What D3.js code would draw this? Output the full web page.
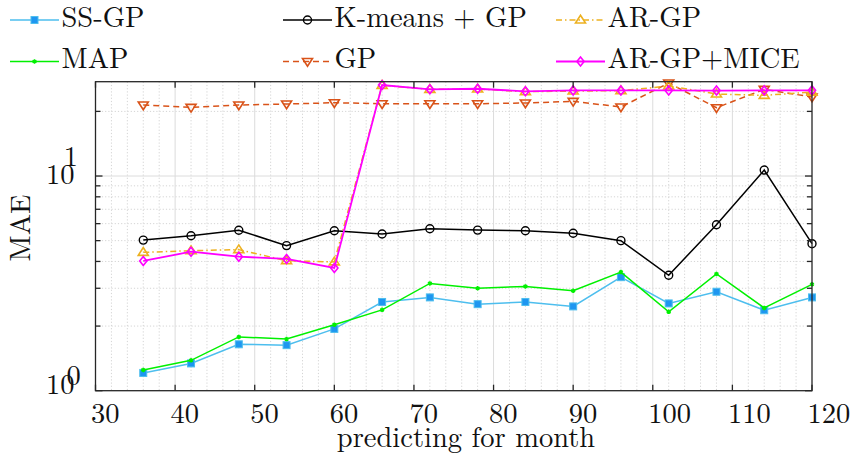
<!DOCTYPE html>
<html>
<head>
<meta charset="utf-8">
<script src="https://cdn.jsdelivr.net/npm/d3@7"></script>
<style>
  html, body { margin: 0; padding: 0; background: #fff; }
  svg { display: block; }
</style>
</head>
<body>
<svg id="chart" width="855" height="461"></svg>
<script>
// Forecast horizon (month) and mean absolute error per method
const months = [36, 42, 48, 54, 60, 66, 72, 78, 84, 90, 96, 102, 108, 114, 120];
const ssgp   = [1.21, 1.34, 1.645, 1.63, 1.94, 2.59, 2.72, 2.53, 2.59, 2.47, 3.38, 2.55, 2.89, 2.37, 2.72];
const mapEst = [1.25, 1.385, 1.78, 1.74, 2.03, 2.38, 3.16, 3.0, 3.06, 2.92, 3.57, 2.33, 3.5, 2.43, 3.13];
const kmeans = [5.03, 5.27, 5.59, 4.74, 5.56, 5.37, 5.68, 5.60, 5.56, 5.41, 5.00, 3.45, 5.93, 10.66, 4.84];
const gp     = [21.42, 20.89, 21.42, 21.64, 21.95, 21.71, 21.71, 21.71, 21.88, 22.28, 20.96, 27.1, 20.8, 25.34, 23.34];
const argp   = [4.41, 4.49, 4.54, 4.03, 3.98, 26.45, 25.34, 25.42, 24.7, 24.88, 24.96, 26.25, 24.1, 23.76, 24.6];
const argpMice = [4.02, 4.44, 4.21, 4.11, 3.73, 26.53, 25.34, 25.5, 24.8, 25.05, 25.05, 25.05, 25.0, 25.05, 25.07];

const seriesNames = ["SS-GP", "MAP", "K-means + GP", "GP", "AR-GP", "AR-GP+MICE"];
const xTicks = [30, 40, 50, 60, 70, 80, 90, 100, 110, 120];
const xMinor = d3.range(32, 120, 2).filter(v => v % 10 !== 0);
const yMajor = [1, 10];
const yMinor = [2, 3, 4, 5, 6, 7, 8, 9, 20];

const svg = d3.select("#chart");
const pLeft = 95.5, pRight = 812, pTop = 81.7, pBottom = 390.7;
const ink = "#111";
const FONT = "Latin Modern Roman";
const FS = 28.5;

const x = d3.scaleLinear().domain([30, 120]).range([pLeft, pRight]);
const y = d3.scaleLog().domain([1, 27.5]).range([pBottom, pTop]);

function label(sel) {
  return sel.style("font-family", FONT).attr("fill", ink);
}

// grid
const grid = svg.append("g");
grid.selectAll(".vminor").data(xMinor).join("line")
  .attr("x1", d => x(d)).attr("x2", d => x(d)).attr("y1", pTop).attr("y2", pBottom)
  .attr("stroke", "#d4d4d4").attr("stroke-width", 1).attr("stroke-dasharray", "1.2,2");
grid.selectAll(".hminor").data(yMinor).join("line")
  .attr("y1", d => y(d)).attr("y2", d => y(d)).attr("x1", pLeft).attr("x2", pRight)
  .attr("stroke", "#d4d4d4").attr("stroke-width", 1).attr("stroke-dasharray", "1.2,2");
grid.selectAll(".vmajor").data(xTicks.slice(1, -1)).join("line")
  .attr("x1", d => x(d)).attr("x2", d => x(d)).attr("y1", pTop).attr("y2", pBottom)
  .attr("stroke", "#dcdcdc").attr("stroke-width", 1);
grid.append("line")
  .attr("y1", y(10)).attr("y2", y(10)).attr("x1", pLeft).attr("x2", pRight)
  .attr("stroke", "#dcdcdc").attr("stroke-width", 1);

// series
const specs = [
  { v: ssgp, color: "#4DBEEE", width: 1.5, dash: null, marker: "square" },
  { v: mapEst, color: "#00F000", width: 1.5, dash: null, marker: "star" },
  { v: kmeans, color: "#000000", width: 1.5, dash: null, marker: "circle" },
  { v: gp, color: "#D95319", width: 1.5, dash: "6,4", marker: "tridown" },
  { v: argp, color: "#EDB120", width: 1.5, dash: "6,3,1.5,3", marker: "triup" },
  { v: argpMice, color: "#FF00FF", width: 1.8, dash: null, marker: "diamond" }
];

function drawMarker(g, type, color, cx, cy) {
  if (type === "square") {
    g.append("rect").attr("x", cx - 3.5).attr("y", cy - 3.5).attr("width", 7).attr("height", 7)
      .attr("fill", "#1E96F0").attr("stroke", "#4DBEEE").attr("stroke-width", 1);
  } else if (type === "star") {
    g.append("path").attr("d", d3.symbol(d3.symbolAsterisk, 14)())
      .attr("transform", `translate(${cx},${cy})`).attr("fill", "none")
      .attr("stroke", color).attr("stroke-width", 1.6);
  } else if (type === "circle") {
    g.append("circle").attr("cx", cx).attr("cy", cy).attr("r", 4)
      .attr("fill", "none").attr("stroke", color).attr("stroke-width", 1.4);
  } else if (type === "tridown") {
    const s = 5;
    g.append("path").attr("d", `M${cx - s},${cy - s * 0.6}L${cx + s},${cy - s * 0.6}L${cx},${cy + s * 0.95}Z`)
      .attr("fill", "none").attr("stroke", color).attr("stroke-width", 1.6);
  } else if (type === "triup") {
    const s = 5;
    g.append("path").attr("d", `M${cx - s},${cy + s * 0.6}L${cx + s},${cy + s * 0.6}L${cx},${cy - s * 0.95}Z`)
      .attr("fill", "none").attr("stroke", color).attr("stroke-width", 1.6);
  } else if (type === "diamond") {
    const s = 4.5;
    g.append("path").attr("d", `M${cx},${cy - s}L${cx + s * 0.8},${cy}L${cx},${cy + s}L${cx - s * 0.8},${cy}Z`)
      .attr("fill", "none").attr("stroke", color).attr("stroke-width", 1.6);
  }
}

const line = d3.line().x((d, i) => x(months[i])).y(d => y(d));
const plot = svg.append("g");
specs.forEach(s => {
  const g = plot.append("g");
  g.append("path").datum(s.v).attr("d", line)
    .attr("fill", "none").attr("stroke", s.color).attr("stroke-width", s.width)
    .attr("stroke-dasharray", s.dash);
  s.v.forEach((v, i) => drawMarker(g, s.marker, s.color, x(months[i]), y(v)));
});

// axes frame and ticks
const axisColor = "#262626";
const ax = svg.append("g");
ax.append("rect").attr("x", pLeft).attr("y", pTop).attr("width", pRight - pLeft).attr("height", pBottom - pTop)
  .attr("fill", "none").attr("stroke", axisColor).attr("stroke-width", 1.3);
xTicks.forEach(t => {
  ax.append("line").attr("x1", x(t)).attr("x2", x(t)).attr("y1", pBottom).attr("y2", pBottom - 6)
    .attr("stroke", axisColor).attr("stroke-width", 1.3);
  ax.append("line").attr("x1", x(t)).attr("x2", x(t)).attr("y1", pTop).attr("y2", pTop + 6)
    .attr("stroke", axisColor).attr("stroke-width", 1.3);
});
yMajor.concat(yMinor).forEach(t => {
  const len = yMajor.includes(t) ? 7 : 5;
  ax.append("line").attr("x1", pLeft).attr("x2", pLeft + len).attr("y1", y(t)).attr("y2", y(t))
    .attr("stroke", axisColor).attr("stroke-width", 1.3);
  ax.append("line").attr("x1", pRight).attr("x2", pRight - len).attr("y1", y(t)).attr("y2", y(t))
    .attr("stroke", axisColor).attr("stroke-width", 1.3);
});

// x tick labels
svg.append("g").selectAll("text").data(xTicks).join("text")
  .attr("x", d => x(d) - 4.5).attr("y", 423)
  .attr("font-size", FS).attr("text-anchor", "start")
  .call(label)
  .text(d => d);

// y tick labels as 10 with an exponent
const yLab = svg.append("g");
[{ v: 1, e: "0", base: 394, sup: 384.5, sx: 73.7 }, { v: 10, e: "1", base: 184, sup: 165.5, sx: 71 }].forEach(t => {
  yLab.append("text").attr("x", 46).attr("y", t.base).attr("font-size", FS).call(label).text("10");
  yLab.append("text").attr("x", t.sx).attr("y", t.sup).attr("font-size", FS)
    .attr("text-anchor", "middle").call(label).text(t.e);
});

// axis titles
svg.append("text").attr("x", 466).attr("y", 447).attr("font-size", FS)
  .attr("text-anchor", "middle").call(label)
  .text("predicting for month");
svg.append("text").attr("transform", "translate(30,228) rotate(-90)")
  .attr("font-size", FS).attr("text-anchor", "middle").call(label).text("MAE");

// legend
const legendPos = [
  { lx: 10, ly: 20 }, { lx: 10, ly: 61.5 },
  { lx: 283, ly: 20 }, { lx: 283, ly: 61.5 },
  { lx: 556, ly: 20 }, { lx: 556, ly: 61.5 }
];
const legend = svg.append("g");
specs.forEach((s, i) => {
  const p = legendPos[i];
  const g = legend.append("g");
  g.append("line").attr("x1", p.lx).attr("x2", p.lx + 49).attr("y1", p.ly).attr("y2", p.ly)
    .attr("stroke", s.color).attr("stroke-width", s.width)
    .attr("stroke-dasharray", s.dash);
  drawMarker(g, s.marker, s.color, p.lx + 24.5, p.ly);
  g.append("text").attr("x", p.lx + 51.5).attr("y", p.ly + 6.5)
    .attr("font-size", FS).call(label).text(seriesNames[i]);
});
</script>
</body>
</html>
